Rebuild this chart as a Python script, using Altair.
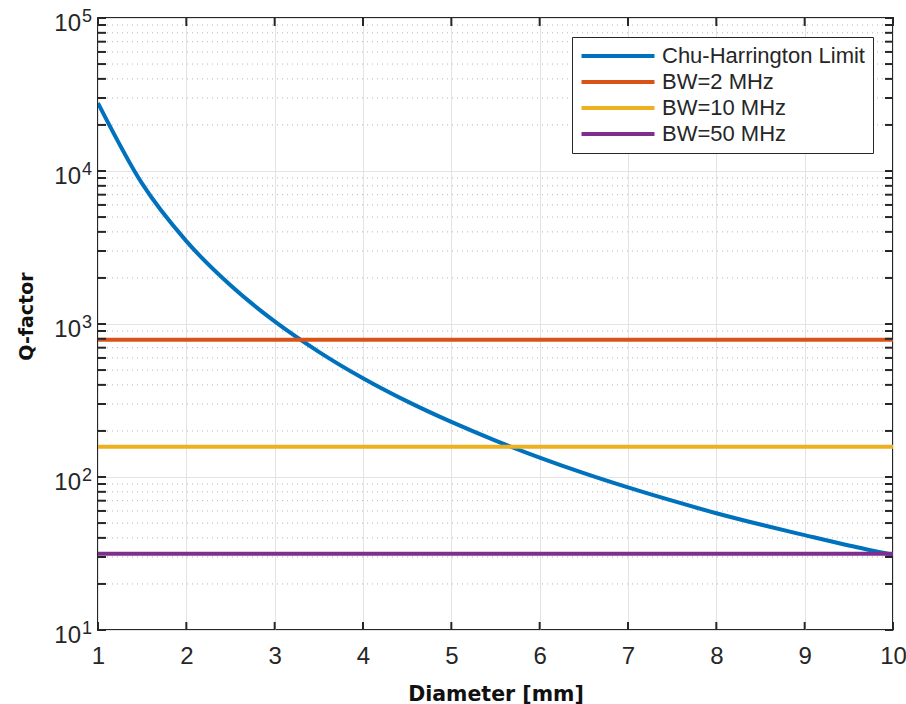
import altair as alt
import pandas as pd

# ---- data ----
diam = [1, 1.5, 2, 2.5, 3, 3.5, 4, 4.5, 5, 5.5, 6, 6.5, 7, 7.5, 8, 8.5, 9, 9.5, 10]
q_chu = [27800, 8260, 3480, 1790, 1040, 658, 442, 312, 229, 173, 134, 106, 85.5, 70, 58, 48.9, 41.7, 35.7, 31]
series_names = ["Chu-Harrington Limit", "BW=2 MHz", "BW=10 MHz", "BW=50 MHz"]
series_colors = ["#0072BD", "#D95319", "#EDB120", "#7E2F8E"]
bw_q = [787.5, 157.5, 31.5]
x_span = [1, 10]
x_ticks = [1, 2, 3, 4, 5, 6, 7, 8, 9, 10]
y_major = [10, 100, 1000, 10000, 100000]
y_exp = ["1", "2", "3", "4", "5"]
y_minor = [m * d for d in [10, 100, 1000, 10000] for m in range(2, 10)]

W, H = 795, 612
AX = "#262626"
FONT = "Liberation Sans"
TFONT = "DejaVu Sans"

rows = [{"d": d, "q": q, "s": series_names[0]} for d, q in zip(diam, q_chu)]
for name, q in zip(series_names[1:], bw_q):
    for d in x_span:
        rows.append({"d": d, "q": q, "s": name})
df_lines = pd.DataFrame(rows)
df_major = pd.DataFrame({"v": y_major, "base": ["10"] * len(y_major), "exp": y_exp})
df_minor = pd.DataFrame({"v": y_minor})
df_yt = pd.DataFrame({"v": y_major + y_minor})
df_xt = pd.DataFrame({"d": x_ticks})

xscale = alt.Scale(domain=[1, 10], nice=False, zero=False)
yscale = alt.Scale(type="log", domain=[10, 100000], nice=False)

minor_grid = alt.Chart(df_minor).mark_rule(strokeDash=[1, 4], color="#b5b5b5", strokeWidth=1).encode(
    y=alt.Y("v:Q", scale=yscale)
)

lines = alt.Chart(df_lines).mark_line(strokeWidth=4, interpolate="monotone", clip=True).encode(
    x=alt.X("d:Q", scale=xscale, axis=alt.Axis(
        values=x_ticks, format="d", grid=True, gridColor="#e3e3e3", gridWidth=1, ticks=False, domain=False,
        labelFont=FONT, labelFontSize=24, labelColor=AX, labelPadding=14, labelFlush=False,
        title="Diameter [mm]", titleFont=TFONT, titleFontWeight="bold", titleFontSize=20.5,
        titleColor="#111111", titlePadding=16)),
    y=alt.Y("q:Q", scale=yscale, axis=alt.Axis(
        values=y_major, grid=True, gridColor="#e3e3e3", gridWidth=1, ticks=False, domain=False,
        labels=False, title="Q-factor", titleFont=TFONT, titleFontWeight="bold", titleFontSize=19,
        titleColor="#111111", titlePadding=62, titleY=298)),
    color=alt.Color("s:N", sort=series_names,
                    scale=alt.Scale(domain=series_names, range=series_colors),
                    legend=alt.Legend(title=None, orient="none", legendX=474, legendY=19,
                                      fillColor="white", strokeColor=AX, padding=8,
                                      labelFont=FONT, labelFontSize=22, labelColor=AX,
                                      labelLimit=400,
                                      symbolType="M-5,0L5,0", symbolSize=213, symbolStrokeWidth=4,
                                      symbolOffset=27, labelOffset=33, rowPadding=4, cornerRadius=0)),
    detail="s:N",
)

xt_bottom = alt.Chart(df_xt).mark_rule(color=AX, strokeWidth=2).encode(
    x=alt.X("d:Q", scale=xscale), y=alt.value(H), y2=alt.value(H - 8))
xt_top = alt.Chart(df_xt).mark_rule(color=AX, strokeWidth=2).encode(
    x=alt.X("d:Q", scale=xscale), y=alt.value(0), y2=alt.value(8))
yt_left = alt.Chart(df_yt).mark_rule(color=AX, strokeWidth=2).encode(
    y=alt.Y("v:Q", scale=yscale), x=alt.value(0), x2=alt.value(8))
yt_right = alt.Chart(df_yt).mark_rule(color=AX, strokeWidth=2).encode(
    y=alt.Y("v:Q", scale=yscale), x=alt.value(W), x2=alt.value(W - 8))

ylab_base = alt.Chart(df_major).mark_text(align="right", baseline="alphabetic", dy=13, fontSize=24,
                                          font=FONT, color=AX).encode(
    y=alt.Y("v:Q", scale=yscale), x=alt.value(-17), text="base:N")
ylab_exp = alt.Chart(df_major).mark_text(align="left", baseline="alphabetic", dy=4, fontSize=18,
                                         font=FONT, color=AX).encode(
    y=alt.Y("v:Q", scale=yscale), x=alt.value(-16), text="exp:N")

chart = alt.layer(minor_grid, lines, xt_bottom, xt_top, yt_left, yt_right, ylab_base, ylab_exp).properties(
    width=W, height=H,
    autosize=alt.AutoSizeParams(type="none"),
    padding={"left": 98, "top": 18, "right": 13, "bottom": 74},
    background="white",
).configure_view(stroke=AX, strokeWidth=2)

chart.save("out.html", embed_options={"renderer": "svg", "actions": False})
